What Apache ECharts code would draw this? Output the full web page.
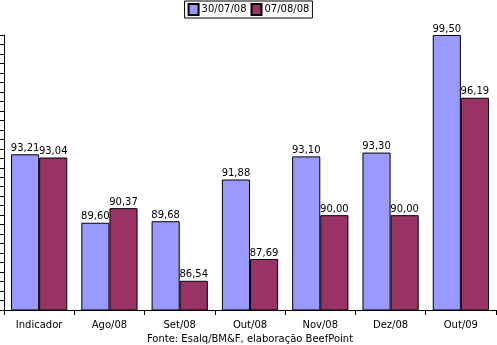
<!DOCTYPE html>
<html><head><meta charset="utf-8">
<script src="https://cdn.jsdelivr.net/npm/echarts@6/dist/echarts.min.js"></script>
<style>html,body{margin:0;padding:0;background:#fff}#c{width:497px;height:345px}</style>
</head><body><div id="c"></div>
<script>
const categories = ['Indicador','Ago/08','Set/08','Out/08','Nov/08','Dez/08','Out/09'];
const series1Name = '30/07/08';
const series2Name = '07/08/08';
const series1 = [93.21, 89.60, 89.68, 91.88, 93.10, 93.30, 99.50];
const series2 = [93.04, 90.37, 86.54, 87.69, 90.00, 90.00, 96.19];
const sourceText = 'Fonte: Esalq/BM&F, elaboração BeefPoint';

const font = 'DejaVu Sans, Verdana, sans-serif';
const fmt = p => p.value.toFixed(2).replace('.', ',');
const chart = echarts.init(document.getElementById('c'), null, {renderer:'canvas'});
const lbl = {show:true, position:'top', distance:1, formatter:fmt, color:'#000', fontSize:10, fontFamily:font};
chart.setOption({
  animation:false,
  textStyle:{fontFamily:font},
  legend:{top:1, left:'center', itemWidth:10, itemHeight:11, itemGap:4, padding:[2,3,2,3],
    borderColor:'#000', borderWidth:1, textStyle:{fontSize:10, color:'#000', fontFamily:font, padding:[0,0,0,-2]},
    data:[{name:series1Name, icon:'rect'},{name:series2Name, icon:'rect'}]},
  title:{text:sourceText, left:250, textAlign:'center', top:334, padding:0, textStyle:{fontSize:10, fontWeight:'normal', color:'#000', fontFamily:font}},
  grid:{left:4, right:1, top:35, bottom:35, containLabel:false},
  xAxis:{type:'category', data:categories,
    axisLine:{lineStyle:{color:'#000', width:1}},
    axisTick:{show:true, length:5, lineStyle:{color:'#000'}},
    axisLabel:{color:'#000', fontSize:10, fontFamily:font, margin:10}},
  yAxis:{type:'value', min:85, max:99.5, interval:0.5,
    axisLine:{show:true, lineStyle:{color:'#000', width:1}},
    axisTick:{show:true, length:4, lineStyle:{color:'#000'}},
    axisLabel:{show:false}, splitLine:{show:false}},
  series:[
    {name:series1Name, type:'bar', data:series1, barGap:'0%', barCategoryGap:'20%',
     itemStyle:{color:'#9999FF', borderColor:'#000', borderWidth:1}, label:lbl},
    {name:series2Name, type:'bar', data:series2,
     itemStyle:{color:'#993366', borderColor:'#000', borderWidth:1}, label:lbl}
  ]
});
</script></body></html>
